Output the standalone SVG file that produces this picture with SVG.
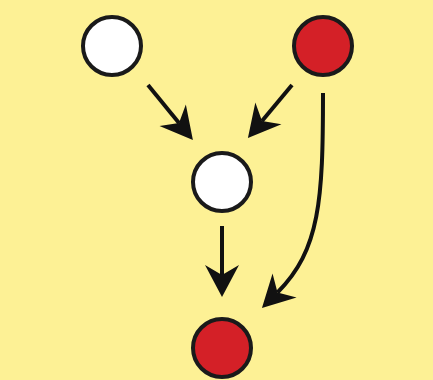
<svg xmlns="http://www.w3.org/2000/svg" width="433" height="380" viewBox="0 0 433 380">
<style>
.node{stroke:#1a1a1a;stroke-width:4}
.white{fill:#ffffff}
.red{fill:#d42027}
.edge{fill:none;stroke:#111111;stroke-width:4}
</style>
<defs>
<marker id="ah" markerUnits="userSpaceOnUse" markerWidth="40" markerHeight="40" viewBox="-12 -20 40 40" refX="0" refY="0" orient="auto" overflow="visible">
<path d="M-10,-17 L22,0 L-10,17 L0,0 Z" fill="#111111"/>
</marker>
</defs>
<rect width="433" height="380" fill="#fdf195"/>
<g id="connectors">
<path class="edge" d="M148,85 L179,123" marker-end="url(#ah)"/>
<path class="edge" d="M292,85 L262,121" marker-end="url(#ah)"/>
<path class="edge" d="M222,226 L222,275" marker-end="url(#ah)"/>
<path class="edge" d="M323,93 C323,200 320,250 277.5,292.5" marker-end="url(#ah)"/>
</g>
<g id="n1"><circle class="node white" cx="112" cy="46" r="29"/></g>
<g id="n2"><circle class="node red" cx="323" cy="46" r="29"/></g>
<g id="n3"><circle class="node white" cx="222" cy="182" r="29"/></g>
<g id="n4"><circle class="node red" cx="222" cy="348" r="29"/></g>
</svg>
